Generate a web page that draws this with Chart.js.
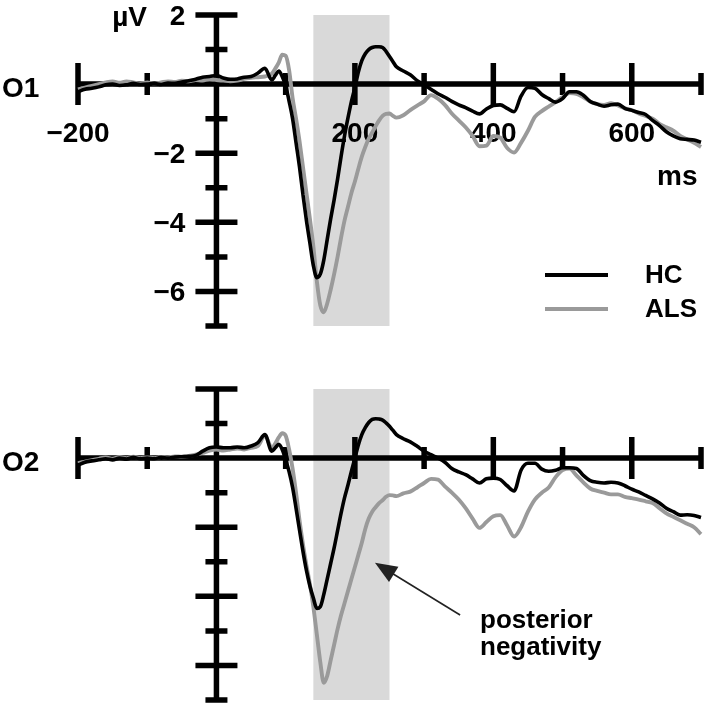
<!DOCTYPE html>
<html><head><meta charset="utf-8">
<script src="https://cdn.jsdelivr.net/npm/chart.js@4"></script>
<style>
html,body{margin:0;padding:0;background:#fff;overflow:hidden;width:708px;height:708px;}
canvas{position:absolute;left:0;}
#c1{top:0}
#c2{top:374px}
</style></head><body>
<canvas id="c1" width="708" height="335"></canvas>
<canvas id="c2" width="708" height="335"></canvas>
<script>
// ---- data (ms, µV) ----
const timesMs = [-200,-190,-180,-170,-160,-150,-140,-130,-120,-110,-100,-90,-80,-70,-60,-50,-40,-30,-20,-10,0,10,20,30,40,50,60,70,80,
 85,90,95,100,105,110,115,120,125,130,135,140,145,150,155,160,165,170,175,180,185,190,195,200,205,210,215,220,225,230,235,240,245,250,255,260,
 270,280,290,300,310,320,330,340,350,360,370,380,390,400,410,420,430,440,450,460,470,480,490,500,510,520,530,540,550,560,570,580,590,600,610,620,630,640,650,660,670,680,690,700];

const o1HC = [-0.22,-0.15,-0.12,-0.08,-0.02,0.0,-0.04,-0.02,0.02,-0.01,0.0,0.02,-0.01,0.03,0.02,0.06,0.1,0.14,0.2,0.22,0.25,0.18,0.14,0.15,0.2,0.22,0.32,0.46,0.12,
 0.25,0.38,0.22,-0.05,-0.5,-1.0,-1.7,-2.4,-3.2,-3.95,-4.6,-5.25,-5.6,-5.5,-5.1,-4.5,-3.9,-3.35,-2.75,-2.1,-1.5,-0.98,-0.5,-0.1,0.35,0.68,0.88,1.0,1.06,1.08,1.08,1.06,0.95,0.8,0.65,0.5,
 0.38,0.27,0.1,-0.02,-0.15,-0.28,-0.38,-0.5,-0.6,-0.68,-0.78,-0.86,-0.72,-0.62,-0.6,-0.7,-0.8,-0.35,-0.1,-0.12,-0.3,-0.42,-0.52,-0.42,-0.22,-0.22,-0.32,-0.5,-0.58,-0.64,-0.6,-0.58,-0.7,-0.76,-0.82,-0.88,-1.05,-1.2,-1.38,-1.5,-1.58,-1.6,-1.62,-1.68];

const o1ALS = [-0.15,-0.1,-0.05,0.0,0.05,0.08,0.04,0.08,0.05,0.02,0.05,0.02,0.05,0.08,0.06,0.1,0.08,0.12,0.1,0.15,0.12,0.1,0.08,0.1,0.15,0.18,0.2,0.22,0.3,
 0.45,0.62,0.85,0.82,0.4,-0.4,-1.0,-1.65,-2.4,-3.15,-3.9,-4.7,-5.7,-6.4,-6.6,-6.35,-5.95,-5.5,-5.0,-4.45,-3.95,-3.55,-3.15,-2.82,-2.45,-2.1,-1.82,-1.58,-1.4,-1.22,-1.05,-0.92,-0.86,-0.85,-0.92,-0.97,
 -0.9,-0.75,-0.62,-0.5,-0.32,-0.42,-0.6,-0.85,-1.05,-1.25,-1.5,-1.8,-1.78,-1.5,-1.55,-1.85,-1.98,-1.7,-1.35,-0.95,-0.78,-0.65,-0.52,-0.38,-0.26,-0.28,-0.38,-0.5,-0.58,-0.6,-0.55,-0.62,-0.7,-0.75,-0.85,-0.92,-1.0,-1.15,-1.25,-1.35,-1.5,-1.6,-1.7,-1.82];

const o2HC = [-0.2,-0.12,-0.08,-0.05,-0.02,-0.05,0.0,-0.03,0.02,-0.02,0.0,-0.02,0.02,0.0,0.03,0.04,0.05,0.08,0.2,0.3,0.32,0.3,0.3,0.32,0.3,0.35,0.45,0.68,0.2,
 0.3,0.4,0.25,-0.05,-0.4,-0.85,-1.45,-2.08,-2.7,-3.25,-3.7,-4.05,-4.35,-4.3,-3.95,-3.5,-3.05,-2.6,-2.1,-1.6,-1.15,-0.78,-0.38,0.0,0.38,0.68,0.88,1.03,1.12,1.14,1.13,1.1,1.02,0.92,0.8,0.68,
 0.56,0.47,0.34,0.2,0.1,0.0,-0.12,-0.3,-0.4,-0.48,-0.6,-0.72,-0.6,-0.58,-0.62,-0.8,-0.95,-0.35,-0.15,-0.15,-0.32,-0.38,-0.35,-0.28,-0.28,-0.3,-0.5,-0.65,-0.7,-0.72,-0.7,-0.72,-0.8,-0.9,-0.98,-1.08,-1.18,-1.3,-1.45,-1.55,-1.65,-1.64,-1.66,-1.72];

const o2ALS = [-0.15,-0.1,-0.06,-0.02,0.02,-0.02,0.03,0.0,0.04,0.0,0.02,0.0,0.03,0.02,0.05,0.04,0.06,0.1,0.15,0.22,0.25,0.22,0.25,0.28,0.25,0.3,0.35,0.65,0.3,
 0.42,0.6,0.72,0.65,0.25,-0.3,-1.0,-1.8,-2.5,-3.1,-3.65,-4.3,-5.1,-5.9,-6.5,-6.3,-5.85,-5.4,-4.95,-4.55,-4.2,-3.85,-3.5,-3.15,-2.8,-2.45,-2.05,-1.75,-1.55,-1.42,-1.3,-1.22,-1.12,-1.07,-1.08,-1.1,
 -1.02,-0.97,-0.85,-0.72,-0.6,-0.62,-0.82,-1.0,-1.2,-1.45,-1.75,-2.02,-1.85,-1.68,-1.65,-1.95,-2.27,-2.0,-1.55,-1.2,-1.0,-0.85,-0.55,-0.35,-0.3,-0.5,-0.7,-0.88,-0.95,-1.0,-1.05,-1.05,-1.12,-1.16,-1.2,-1.25,-1.3,-1.45,-1.6,-1.7,-1.8,-1.9,-2.0,-2.2];

const seriesNames = ['HC', 'ALS'];
const panelNames = ['O1', 'O2'];
const xMajorTicks = [-200, 200, 400, 600];
const xMinorTicks = [-100, 100, 300, 500, 700];
const xTickValues = [-200, 200, 400, 600];
const xTickLabels = ['\u2212200', '200', '400', '600'];
const yMajorTicks = [2, -2, -4, -6];
const yMinorTicks = [1, -1, -3, -5, -7];
const yTickValues = [2, -2, -4, -6];
const yTickLabels = ['2', '\u22122', '\u22124', '\u22126'];
const windowMs = [140, 250];
const annotationLines = ['posterior', 'negativity'];

// ---- drawing ----
const FONT = '"Liberation Sans", Arial, Helvetica, sans-serif';
const HC_COLOR = '#000000';
const ALS_COLOR = '#9a9a9a';

const erpPlugin = {
  id: 'erpPlugin',
  beforeDatasetsDraw(chart, args, opts) {
    const ctx = chart.ctx, xs = chart.scales.x, ys = chart.scales.y;
    const X = v => xs.getPixelForValue(v), Y = v => ys.getPixelForValue(v);
    ctx.save();
    ctx.fillStyle = '#d9d9d9';
    ctx.fillRect(X(windowMs[0]), Y(2), X(windowMs[1]) - X(windowMs[0]), Y(-7) - Y(2));
    const x0 = X(0), y0 = Y(0);
    ctx.strokeStyle = '#000'; ctx.lineWidth = 5.5; ctx.lineCap = 'butt';
    ctx.beginPath();
    ctx.moveTo(X(-200), y0); ctx.lineTo(X(700), y0);
    ctx.moveTo(x0, Y(2)); ctx.lineTo(x0, Y(-7));
    xMajorTicks.forEach(t => { ctx.moveTo(X(t), y0 - 21); ctx.lineTo(X(t), y0 + 21); });
    xMinorTicks.forEach(t => { ctx.moveTo(X(t), y0 - 11); ctx.lineTo(X(t), y0 + 11); });
    yMajorTicks.forEach(v => { ctx.moveTo(x0 - 21, Y(v)); ctx.lineTo(x0 + 21, Y(v)); });
    yMinorTicks.forEach(v => { ctx.moveTo(x0 - 11, Y(v)); ctx.lineTo(x0 + 11, Y(v)); });
    ctx.stroke();

    ctx.fillStyle = '#000';
    ctx.font = 'bold 28px ' + FONT;
    ctx.textAlign = 'left'; ctx.textBaseline = 'alphabetic';
    ctx.fillText(opts.panel, 2, y0 + 13);
    if (opts.labels) {
      ctx.textAlign = 'center';
      xTickValues.forEach((t, i) => ctx.fillText(xTickLabels[i], X(t), y0 + 58));
      ctx.textAlign = 'right'; ctx.textBaseline = 'middle';
      yTickValues.forEach((v, i) => ctx.fillText(yTickLabels[i], x0 - 31, Y(v) + 2));
      ctx.textBaseline = 'alphabetic';
      ctx.fillText('\u00b5V', 147, Y(2) + 11);
      ctx.textAlign = 'left';
      ctx.fillText('ms', 657, y0 + 101);
    }
    ctx.restore();
  },
  afterDatasetsDraw(chart, args, opts) {
    const ctx = chart.ctx, xs = chart.scales.x, ys = chart.scales.y;
    const X = v => xs.getPixelForValue(v), Y = v => ys.getPixelForValue(v);
    ctx.save();
    if (opts.legend) {
      ctx.lineWidth = 4;
      [[HC_COLOR, 0], [ALS_COLOR, 1]].forEach(([c, i]) => {
        const yy = 275 + i * 34;
        ctx.strokeStyle = c;
        ctx.beginPath(); ctx.moveTo(545, yy); ctx.lineTo(608, yy); ctx.stroke();
        ctx.fillStyle = '#000';
        ctx.font = 'bold 26px ' + FONT;
        ctx.textAlign = 'left'; ctx.textBaseline = 'middle';
        ctx.fillText(seriesNames[i], 645, yy + 1);
      });
    }
    if (opts.annotation) {
      const tx = X(352), ty = Y(-4.54), hx = X(229), hy = Y(-3.03);
      const ang = Math.atan2(hy - ty, hx - tx);
      const hl = 22, hw = 9;
      ctx.strokeStyle = '#222'; ctx.lineWidth = 1.6;
      ctx.beginPath(); ctx.moveTo(tx, ty);
      ctx.lineTo(hx - Math.cos(ang) * hl * 0.8, hy - Math.sin(ang) * hl * 0.8); ctx.stroke();
      ctx.fillStyle = '#222';
      ctx.beginPath();
      ctx.moveTo(hx, hy);
      ctx.lineTo(hx - Math.cos(ang) * hl - Math.sin(ang) * hw, hy - Math.sin(ang) * hl + Math.cos(ang) * hw);
      ctx.lineTo(hx - Math.cos(ang) * hl + Math.sin(ang) * hw, hy - Math.sin(ang) * hl - Math.cos(ang) * hw);
      ctx.closePath(); ctx.fill();
      ctx.fillStyle = '#000';
      ctx.font = 'bold 26px ' + FONT;
      ctx.textAlign = 'left'; ctx.textBaseline = 'alphabetic';
      ctx.fillText(annotationLines[0], 480, Y(0) + 170);
      ctx.fillText(annotationLines[1], 480, Y(0) + 197);
    }
    ctx.restore();
  }
};

function makePanel(id, hc, als, panelOpts) {
  const pts = arr => timesMs.map((t, i) => ({x: t, y: arr[i]}));
  return new Chart(document.getElementById(id), {
    type: 'line',
    data: {
      datasets: [
        {label: seriesNames[0], data: pts(hc), borderColor: HC_COLOR, borderWidth: 3.6, pointRadius: 0, cubicInterpolationMode: 'monotone', clip: 8, fill: false},
        {label: seriesNames[1], data: pts(als), borderColor: ALS_COLOR, borderWidth: 3.9, pointRadius: 0, cubicInterpolationMode: 'monotone', clip: 8, fill: false}
      ]
    },
    options: {
      responsive: false, animation: false, devicePixelRatio: 1,
      layout: {padding: {left: 78, right: 7, top: 15, bottom: 9}},
      scales: {
        x: {type: 'linear', min: -200, max: 700, display: false},
        y: {type: 'linear', min: -7, max: 2, display: false}
      },
      plugins: {legend: {display: false}, tooltip: {enabled: false}, erpPlugin: panelOpts}
    },
    plugins: [erpPlugin]
  });
}

makePanel('c1', o1HC, o1ALS, {panel: panelNames[0], labels: true, legend: true, annotation: false});
makePanel('c2', o2HC, o2ALS, {panel: panelNames[1], labels: false, legend: false, annotation: true});
</script>
</body></html>
